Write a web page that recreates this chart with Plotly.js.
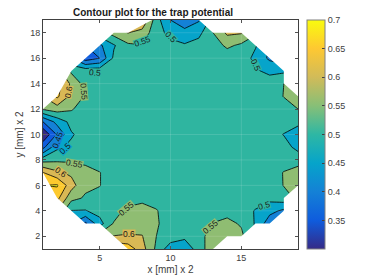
<!DOCTYPE html>
<html><head><meta charset="utf-8">
<script src="https://cdn.plot.ly/plotly-3.0.1.min.js"></script>
<style>html,body{margin:0;padding:0;background:#fff}#c{width:374px;height:280px}</style>
</head><body><div id="c"></div>
<script>
const n = null;
const gridX = [1,2,3,4,5,6,7,8,9,10,11,12,13,14,15,16,17,18,19];
const gridY = [1,2,3,4,5,6,7,8,9,10,11,12,13,14,15,16,17,18,19];
const z01 = [n,n,n,n,n,.70,.68,.62,.54,.47,.47,.52,.59,.58,n,n,n,n,n];
const z02 = [n,n,n,n,.57,.602,.604,.602,.55,.53,.51,.52,.59,.57,.56,.50,n,n,n];
const z03 = [n,n,.45,.39,.48,.555,.58,.58,.56,.51,.52,.52,.552,.562,.545,.495,.42,.42,n];
const z04 = [n,.60,.498,.497,.52,.52,.57,.58,.555,.51,.52,.52,.52,.535,.52,.497,.465,.44,.50];
const z05 = [.70,.665,.565,.544,.53,.52,.51,.53,.52,.52,.52,.52,.52,.52,.52,.52,.515,.53,.56];
const z06 = [.70,.705,.62,.56,.552,.52,.52,.52,.52,.52,.52,.52,.52,.52,.52,.52,.52,.552,.58];
const z07 = [.652,.61,.59,.57,.552,.52,.52,.52,.52,.52,.52,.52,.52,.52,.52,.52,.52,.553,.57];
const z08 = [.53,.54,.54,.535,.52,.52,.52,.52,.52,.52,.52,.52,.52,.52,.52,.52,.52,.52,.53];
const z09 = [.385,.49,.51,.52,.52,.52,.52,.52,.52,.52,.52,.52,.52,.52,.52,.52,.52,.52,.485];
const z10 = [.305,.405,.495,.52,.52,.52,.52,.52,.52,.52,.52,.52,.52,.52,.52,.52,.52,.498,.47];
const z11 = [.40,.467,.515,.52,.52,.52,.52,.52,.52,.52,.52,.52,.52,.52,.52,.52,.52,.525,.515];
const z12 = [.555,.575,.555,.525,.52,.52,.52,.52,.52,.52,.52,.52,.52,.52,.52,.52,.52,.525,.55];
const z13 = [.60,.66,.585,.545,.52,.52,.52,.52,.52,.52,.52,.52,.52,.52,.52,.52,.52,.552,.59];
const z14 = [n,.67,.59,.53,.52,.52,.52,.52,.52,.52,.52,.52,.52,.52,.52,.52,.52,.55,.56];
const z15 = [n,.62,.54,.53,.53,.52,.52,.52,.52,.52,.52,.52,.52,.52,.52,.505,.49,.49,n];
const z16 = [n,n,.45,.37,.40,.51,.52,.52,.52,.52,.52,.52,.52,.52,.53,.485,.44,.42,n];
const z17 = [n,n,n,.40,.44,.495,.54,.548,.52,.515,.505,.52,.525,.56,.54,.505,.45,n,n];
const z18 = [n,n,n,n,.53,.57,.602,.58,.52,.485,.47,.485,.55,.61,.605,.56,n,n,n];
const z19 = [n,n,n,n,n,n,.62,.65,.52,.45,.41,.445,.52,n,n,n,n,n,n];
const zRows = [z01,z02,z03,z04,z05,z06,z07,z08,z09,z10,z11,z12,z13,z14,z15,z16,z17,z18,z19];

const maskTLx = [1,2,3,4,5,6,7,8.7,1,1], maskTLy = [12,13,15,16,17,18,18,19,19,12];
const maskTRx = [12,13,15,18,18,19,19,12], maskTRy = [19,18,18,15,14,13,19,19];
const maskBRx = [19,18,18,17,16,15,14,13,19,19], maskBRy = [6,5,4,3,3,2,2,1,1,6];
const maskBLx = [1,2,3,4,5,7,1,1], maskBLy = [7,5,4,3,3,1,1,7];

const bandColors = ['#352a87','#0f5cdd','#1481d6','#06a4ca','#2fb5a0','#8fbd72','#d9b855','#fdc92e','#f9fb0e'];
const parula = [[0,'#352a87'],[.125,'#0f5cdd'],[.25,'#1481d6'],[.375,'#06a4ca'],[.5,'#2eb7a4'],[.625,'#87bf77'],[.75,'#d1bb59'],[.875,'#fec832'],[1,'#f9fb0e']];

const labelX = [8,10,4.65,2.8,3.9,16,2.05,2.55,3.2,2.3,6.9,7.1,12.85,16.6];
const labelY = [17.3,17.7,14.9,13.3,13.4,15.5,9.6,8.9,7.75,7.05,4.15,2.25,2.75,4.45];
const labelText = ['0.55','0.5','0.5','0.6','0.55','0.5','0.45','0.5','0.55','0.6','0.55','0.6','0.55','0.5'];
const labelAngle = [-20,45,5,-80,85,65,-70,-45,10,35,-40,0,-40,-15];
const labelBg = ['#2fb5a0','#2fb5a0','#2fb5a0','#d9b855','#8fbd72','#2fb5a0','#1481d6','#06a4ca','#8fbd72','#d9b855','#8fbd72','#d9b855','#8fbd72','#2fb5a0'];
const gridXV = [5,10,15], gridYV = [2,4,6,8,10,12,14,16,18];

const stops = [];
bandColors.forEach((c,i)=>{stops.push([i/bandColors.length,c]);stops.push([(i+1)/bandColors.length,c]);});
const ink = '#404040';
const maskTrace = (x,y)=>({type:'scatter',mode:'lines',x,y,fill:'toself',fillcolor:'#fff',line:{width:0,color:'#fff'},hoverinfo:'skip',showlegend:false});

const data = [
 {type:'contour',x:gridX,y:gridY,z:zRows,connectgaps:true,zmin:.3,zmax:.75,autocontour:false,
  contours:{start:.3,end:.75,size:.05,coloring:'fill'},colorscale:stops,showscale:false,
  line:{color:'#000',width:.8,smoothing:0}},
 maskTrace(maskTLx,maskTLy),maskTrace(maskTRx,maskTRy),maskTrace(maskBRx,maskBRy),maskTrace(maskBLx,maskBLy),
 {type:'scatter',mode:'markers',x:[-5,-5],y:[-5,-5],showlegend:false,hoverinfo:'skip',
  marker:{color:[.3,.7],cmin:.3,cmax:.7,colorscale:parula,showscale:true,size:1,
   colorbar:{x:1.034,xanchor:'left',y:0,yanchor:'bottom',len:229,lenmode:'pixels',thickness:18,thicknessmode:'pixels',
    xpad:0,ypad:0,outlinecolor:'#808080',outlinewidth:1,ticks:'inside',ticklen:3,tickcolor:'#404040',tickwidth:1,
    tickvals:[.35,.4,.45,.5,.55,.6,.65,.7],ticktext:['0.35','0.4','0.45','0.5','0.55','0.6','0.65','0.7'],
    tickfont:{family:'Liberation Sans',size:9,color:ink}}}}
];
const annotations = labelX.map((x,i)=>({x,y:labelY[i],text:labelText[i],textangle:labelAngle[i],showarrow:false,
  bgcolor:labelBg[i],font:{family:'Liberation Sans',size:8.5,color:'#1a1a1a'},borderpad:0,height:7}));
const faint = {color:'rgba(255,255,255,0.13)',width:1};
const shapes = [
 ...gridXV.map(v=>({type:'line',xref:'x',yref:'paper',x0:v,x1:v,y0:0,y1:1,line:faint,layer:'above'})),
 ...gridYV.map(v=>({type:'line',xref:'paper',yref:'y',x0:0,x1:1,y0:v,y1:v,line:faint,layer:'above'}))];
const axis = (range,tickvals,title,standoff)=>({range,tickvals,ticktext:tickvals.map(String),ticks:'inside',ticklen:3,tickwidth:1,tickcolor:ink,
  showline:true,linecolor:ink,linewidth:1,mirror:'ticks',showgrid:false,zeroline:false,tickfont:{family:'Liberation Sans',size:9,color:ink},
  title:{text:title,font:{family:'Liberation Sans',size:10,color:ink},standoff}});
const layout = {width:374,height:280,margin:{l:43,r:76,t:20,b:31},paper_bgcolor:'#fff',plot_bgcolor:'#fff',showlegend:false,
  title:{text:'<b>Contour plot for the trap potential</b>',font:{family:'Liberation Sans',size:10,color:'#1a1a1a'},x:153/374,xanchor:'center',y:1-12/280,yanchor:'middle'},
  xaxis:axis([1,19],[5,10,15],'x [mm] x 2',4),
  yaxis:axis([1,19],[2,4,6,8,10,12,14,16,18],'y [mm] x 2',4),
  annotations,shapes};
Plotly.newPlot('c',data,layout,{displayModeBar:false,staticPlot:true});
</script></body></html>
